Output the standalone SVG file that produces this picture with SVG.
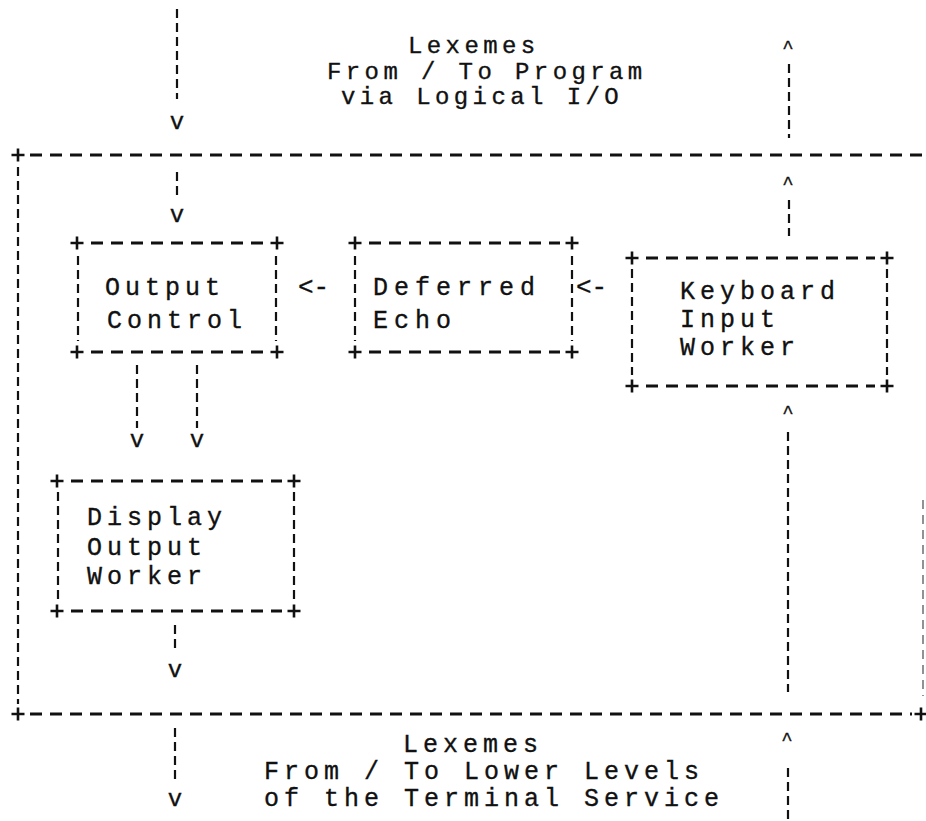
<svg xmlns="http://www.w3.org/2000/svg" xmlns:xlink="http://www.w3.org/1999/xlink" width="926" height="821" viewBox="0 0 926 821">
  <defs>
    <style>
      text { stroke: #111; stroke-width: 0.35px; }
      .t { font-family: "Liberation Mono", "DejaVu Sans Mono", monospace; font-size: 25px; letter-spacing: 5px; fill: #111; }
      .top { font-size: 24px; letter-spacing: 4.4px; }
      .wide { letter-spacing: 6px; }
      .arr { font-family: "Liberation Mono", "DejaVu Sans Mono", monospace; font-size: 24px; fill: #111; text-anchor: middle; }
      .car { font-family: "Liberation Mono", "DejaVu Sans Mono", monospace; font-size: 19px; fill: #111; text-anchor: middle; }
      .lt { font-family: "Liberation Mono", "DejaVu Sans Mono", monospace; font-size: 26px; fill: #111; }
      .h { stroke: #111; stroke-width: 2.8; stroke-dasharray: 12 8; fill: none; }
      .v { stroke: #111; stroke-width: 2.2; stroke-dasharray: 9 5; fill: none; }
      .faint { stroke: #777; stroke-width: 1.6; stroke-dasharray: 9 6; fill: none; }
    </style>
    <!-- corner joint of the dashed frames -->
    <path id="plus" d="M-6.5 0H6.5M0 -6.5V6.5" stroke="#111" stroke-width="2.6" fill="none"/>
  </defs>
  <rect width="926" height="821" fill="#fff"/>

  <!-- upper interface label -->
  <g id="upper-interface">
    <text class="t top" x="408" y="53">Lexemes</text>
    <text class="t top" x="327" y="78.5">From / To Program</text>
    <text class="t top" x="341" y="104">via Logical I/O</text>
  </g>

  <!-- enclosing terminal service frame -->
  <g id="service-frame">
    <line class="h" x1="30" y1="155" x2="926" y2="155"/>
    <use xlink:href="#plus" x="18" y="155"/>
    <line class="v" x1="18" y1="167" x2="18" y2="704"/>
    <line class="faint" x1="923" y1="500" x2="923" y2="696"/>
    <line class="h" x1="30" y1="714" x2="912" y2="714"/>
    <use xlink:href="#plus" x="18" y="714"/>
    <use xlink:href="#plus" x="921" y="714"/>
  </g>

  <!-- Output Control -->
  <g id="output-control">
    <line class="h" x1="91" y1="243" x2="263" y2="243"/>
    <line class="h" x1="91" y1="352" x2="263" y2="352"/>
    <line class="v" x1="78" y1="256" x2="78" y2="341"/>
    <line class="v" x1="276" y1="256" x2="276" y2="341"/>
    <use xlink:href="#plus" x="77" y="243"/>
    <use xlink:href="#plus" x="277" y="243"/>
    <use xlink:href="#plus" x="77" y="352"/>
    <use xlink:href="#plus" x="277" y="352"/>
    <text class="t" x="105" y="295">Output</text>
    <text class="t" x="107" y="328">Control</text>
  </g>

  <!-- Deferred Echo -->
  <g id="deferred-echo">
    <line class="h" x1="369" y1="243" x2="560" y2="243"/>
    <line class="h" x1="369" y1="352" x2="560" y2="352"/>
    <line class="v" x1="355" y1="256" x2="355" y2="341"/>
    <line class="v" x1="572" y1="256" x2="572" y2="341"/>
    <use xlink:href="#plus" x="355" y="243"/>
    <use xlink:href="#plus" x="572" y="243"/>
    <use xlink:href="#plus" x="355" y="352"/>
    <use xlink:href="#plus" x="572" y="352"/>
    <text class="t wide" x="373" y="295">Deferred</text>
    <text class="t wide" x="373" y="328">Echo</text>
  </g>

  <!-- Keyboard Input Worker -->
  <g id="keyboard-input-worker">
    <line class="h" x1="646" y1="258" x2="875" y2="258"/>
    <line class="h" x1="646" y1="386" x2="875" y2="386"/>
    <line class="v" x1="632" y1="269" x2="632" y2="375"/>
    <line class="v" x1="887" y1="269" x2="887" y2="375"/>
    <use xlink:href="#plus" x="632" y="258"/>
    <use xlink:href="#plus" x="887" y="258"/>
    <use xlink:href="#plus" x="632" y="386"/>
    <use xlink:href="#plus" x="887" y="386"/>
    <text class="t" x="680" y="299">Keyboard</text>
    <text class="t" x="680" y="327">Input</text>
    <text class="t" x="680" y="355">Worker</text>
  </g>

  <!-- Display Output Worker -->
  <g id="display-output-worker">
    <line class="h" x1="71" y1="481" x2="282" y2="481"/>
    <line class="h" x1="71" y1="611" x2="282" y2="611"/>
    <line class="v" x1="58" y1="492" x2="58" y2="600"/>
    <line class="v" x1="294" y1="492" x2="294" y2="600"/>
    <use xlink:href="#plus" x="57" y="481"/>
    <use xlink:href="#plus" x="294" y="481"/>
    <use xlink:href="#plus" x="57" y="611"/>
    <use xlink:href="#plus" x="294" y="611"/>
    <text class="t" x="87" y="525">Display</text>
    <text class="t" x="87" y="555">Output</text>
    <text class="t" x="87" y="584">Worker</text>
  </g>

  <!-- lower interface label -->
  <g id="lower-interface">
    <text class="t" x="403" y="752">Lexemes</text>
    <text class="t" x="264" y="779">From / To Lower Levels</text>
    <text class="t" x="264" y="806">of the Terminal Service</text>
  </g>

  <!-- data paths -->
  <g id="connectors">
    <!-- output path, program side down to Output Control -->
    <line class="v" x1="177" y1="9" x2="177" y2="99"/>
    <text class="arr" x="177" y="129">v</text>
    <line class="v" x1="177" y1="172" x2="177" y2="197"/>
    <text class="arr" x="177" y="222">v</text>

    <!-- input path, Keyboard Input Worker up to program -->
    <text class="car" x="788" y="53">^</text>
    <line class="v" x1="789" y1="64" x2="789" y2="138"/>
    <text class="car" x="788" y="189">^</text>
    <line class="v" x1="789" y1="200" x2="789" y2="236"/>

    <!-- echo path between the upper boxes -->
    <text class="lt" x="298" y="295">&lt;-</text>
    <text class="lt" x="576" y="295">&lt;-</text>

    <!-- Output Control down to Display Output Worker -->
    <line class="v" x1="137" y1="365" x2="137" y2="428"/>
    <line class="v" x1="197" y1="365" x2="197" y2="428"/>
    <text class="arr" x="137" y="447">v</text>
    <text class="arr" x="197" y="447">v</text>

    <!-- Display Output Worker down to the lower levels -->
    <line class="v" x1="175" y1="625" x2="175" y2="651"/>
    <text class="arr" x="175" y="677">v</text>
    <line class="v" x1="175" y1="728" x2="175" y2="781"/>
    <text class="arr" x="175" y="806">v</text>

    <!-- lower levels up to Keyboard Input Worker -->
    <text class="car" x="788" y="418">^</text>
    <line class="v" x1="788" y1="432" x2="788" y2="692"/>
    <text class="car" x="787" y="745">^</text>
    <line class="v" x1="788" y1="768" x2="788" y2="821"/>
  </g>
</svg>
